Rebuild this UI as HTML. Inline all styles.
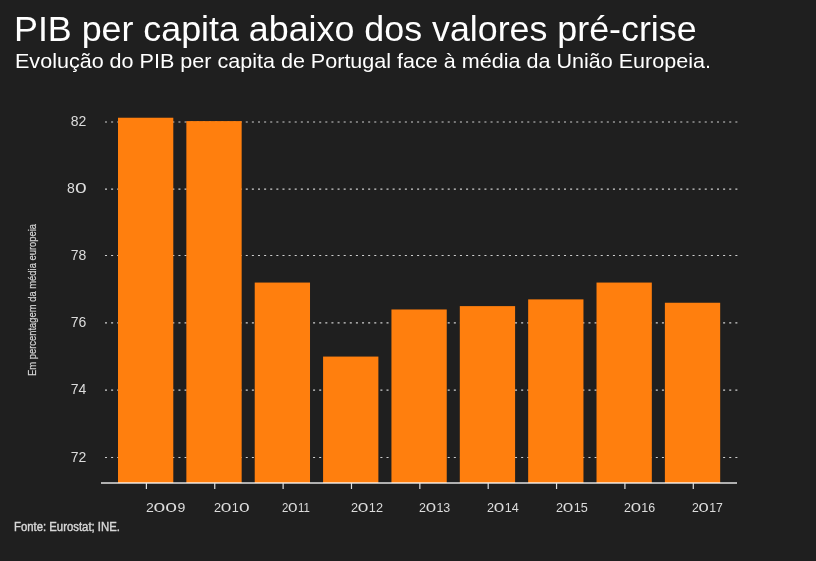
<!DOCTYPE html>
<html><head><meta charset="utf-8">
<style>
html,body{margin:0;padding:0;}
body{-webkit-font-smoothing:antialiased;width:816px;height:561px;background:#1f1f1f;overflow:hidden;position:relative;font-family:"Liberation Sans",sans-serif;color:#fff;}
.t{position:absolute;white-space:nowrap;line-height:1;transform-origin:0 0;}
#title{left:13.9px;top:11px;font-size:35px;color:#fff;transform:scaleX(1.023);}
#sub{left:15.2px;top:49.5px;font-size:21px;color:#fff;transform:scaleX(1.026);}
.yl{position:absolute;transform-origin:100% 0;font-size:14px;color:#dcdcdc;text-align:right;width:40px;left:46.4px;line-height:1;}
.xl{position:absolute;top:500.6px;font-size:13.3px;color:#dcdcdc;line-height:1;white-space:nowrap;transform-origin:0 0;}
#ylab{position:absolute;font-size:10px;color:#d4d4d4;-webkit-text-stroke:0.2px #d4d4d4;white-space:nowrap;line-height:1;transform-origin:0 0;transform:rotate(-90deg) scaleX(0.94);}
#src{position:absolute;left:14px;top:520.5px;font-size:12px;color:#d8d8d8;-webkit-text-stroke:0.4px #d8d8d8;line-height:1;white-space:nowrap;transform-origin:0 0;transform:scaleX(0.945);}
svg{position:absolute;left:0;top:0;}
.z{display:inline-block;transform:scaleX(1.5);margin:0 1.9px;}
.g{position:absolute;left:0;top:0;width:816px;height:561px;filter:grayscale(1);}
</style></head>
<body>
<svg width="816" height="561" viewBox="0 0 816 561">
<g stroke="#cfcfcf" stroke-width="1.2" stroke-dasharray="2.04 4.08">
<line x1="104.98" x2="738.5" y1="122.00" y2="122.00"/>
<line x1="104.98" x2="738.5" y1="189.20" y2="189.20"/>
<line x1="104.98" x2="738.5" y1="255.50" y2="255.50"/>
<line x1="104.98" x2="738.5" y1="322.90" y2="322.90"/>
<line x1="104.98" x2="738.5" y1="390.20" y2="390.20"/>
<line x1="104.98" x2="738.5" y1="457.50" y2="457.50"/>
</g>
<g fill="#ff7f0e">
<rect x="118.00" y="117.73" width="55.3" height="365.27"/>
<rect x="186.36" y="121.09" width="55.3" height="361.91"/>
<rect x="254.72" y="282.56" width="55.3" height="200.44"/>
<rect x="323.08" y="356.57" width="55.3" height="126.43"/>
<rect x="391.44" y="309.47" width="55.3" height="173.53"/>
<rect x="459.80" y="306.11" width="55.3" height="176.89"/>
<rect x="528.16" y="299.38" width="55.3" height="183.62"/>
<rect x="596.52" y="282.56" width="55.3" height="200.44"/>
<rect x="664.88" y="302.75" width="55.3" height="180.25"/>
</g>
<line x1="101" x2="737" y1="483" y2="483" stroke="#fff" stroke-opacity="0.65" stroke-width="2"/>
<g stroke="#e0e0e0" stroke-width="1.2">
<line x1="146.40" x2="146.40" y1="483" y2="489"/>
<line x1="214.76" x2="214.76" y1="483" y2="489"/>
<line x1="283.12" x2="283.12" y1="483" y2="489"/>
<line x1="351.48" x2="351.48" y1="483" y2="489"/>
<line x1="419.84" x2="419.84" y1="483" y2="489"/>
<line x1="488.20" x2="488.20" y1="483" y2="489"/>
<line x1="556.56" x2="556.56" y1="483" y2="489"/>
<line x1="624.92" x2="624.92" y1="483" y2="489"/>
<line x1="693.28" x2="693.28" y1="483" y2="489"/>
</g>
</svg>
<div class="g">
<div class="t" id="title">PIB per capita abaixo dos valores pré-crise</div>
<div class="t" id="sub">Evolução do PIB per capita de Portugal face à média da União Europeia.</div>
<div class="yl" style="top:113.7px">82</div>
<div class="yl" style="top:180.9px">8<span class="z">0</span></div>
<div class="yl" style="top:248.0px">78</div>
<div class="yl" style="top:315.2px">76</div>
<div class="yl" style="top:382.4px">74</div>
<div class="yl" style="top:449.6px">72</div>
<div id="ylab" style="left:28px;top:376px">Em percentagem da média europeia</div>
<div class="xl" id="y2009" style="left:145.56px;transform:scaleX(1.0583)">2<span class="z">0</span><span class="z">0</span>9</div>
<div class="xl" id="y2010" style="left:213.63px;transform:scaleX(0.9583)">2<span class="z">0</span>1<span class="z">0</span></div>
<div class="xl" id="y2011" style="left:282.25px;transform:scaleX(0.8562)">2<span class="z">0</span>11</div>
<div class="xl" id="y2012" style="left:351.00px;transform:scaleX(0.9576)">2<span class="z">0</span>12</div>
<div class="xl" id="y2013" style="left:418.83px;transform:scaleX(0.9364)">2<span class="z">0</span>13</div>
<div class="xl" id="y2014" style="left:487.21px;transform:scaleX(0.9515)">2<span class="z">0</span>14</div>
<div class="xl" id="y2015" style="left:556.00px;transform:scaleX(0.9515)">2<span class="z">0</span>15</div>
<div class="xl" id="y2016" style="left:624.22px;transform:scaleX(0.9333)">2<span class="z">0</span>16</div>
<div class="xl" id="y2017" style="left:692.23px;transform:scaleX(0.9212)">2<span class="z">0</span>17</div>
<div id="src">Fonte: Eurostat; INE.</div>
</div>
</body></html>
